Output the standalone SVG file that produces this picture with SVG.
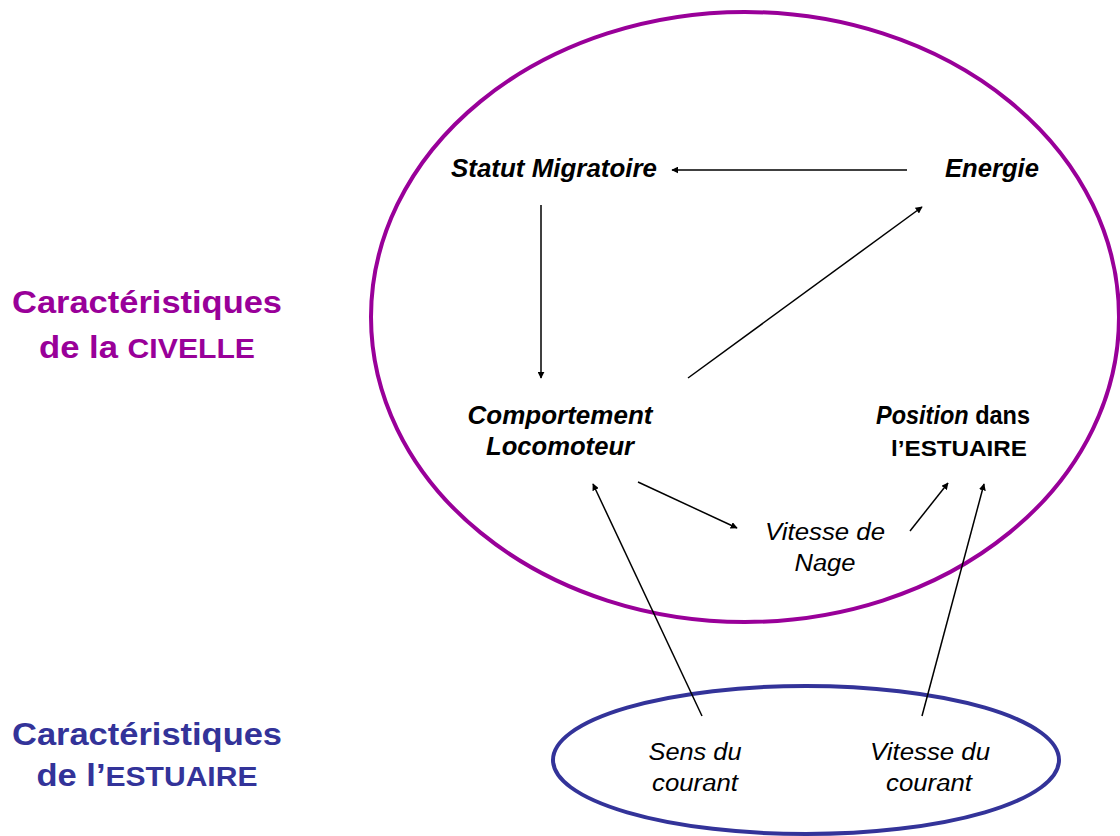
<svg xmlns="http://www.w3.org/2000/svg" width="1120" height="836" viewBox="0 0 1120 836">
<defs>
<style>
.t{font-family:"Liberation Sans",Arial,sans-serif;fill:#000;text-anchor:middle}
.bi{font-weight:bold;font-style:italic;font-size:25px}
.b{font-weight:bold;font-style:normal}
.i{font-style:italic;font-size:23.5px}
.lab{font-family:"Liberation Sans",Arial,sans-serif;font-weight:bold;font-size:31px;text-anchor:middle}
.c{stroke:#000;stroke-width:1.5;fill:none;marker-end:url(#ah)}
</style>
<marker id="ah" viewBox="0 0 10 10" refX="9" refY="5" markerWidth="7" markerHeight="7" markerUnits="userSpaceOnUse" orient="auto"><path d="M0,0 L10,5 L0,10 z" fill="#000"/></marker>
</defs>
<rect width="1120" height="836" fill="#fff"/>
<g id="civelle-ellipse"><ellipse cx="745" cy="317" rx="374" ry="305" fill="none" stroke="#990099" stroke-width="4"/></g>
<g id="estuaire-ellipse"><ellipse cx="806" cy="760" rx="253" ry="74" fill="none" stroke="#333399" stroke-width="4"/></g>
<g id="label-civelle">
<text class="lab" x="147" y="313" fill="#990099" textLength="270" lengthAdjust="spacingAndGlyphs">Caractéristiques</text>
<text class="lab" x="147" y="358" fill="#990099" textLength="216" lengthAdjust="spacingAndGlyphs">de la <tspan font-size="27px">CIVELLE</tspan></text>
</g>
<g id="label-estuaire">
<text class="lab" x="147" y="745" fill="#333399" textLength="270" lengthAdjust="spacingAndGlyphs">Caractéristiques</text>
<text class="lab" x="147" y="786" fill="#333399" textLength="221" lengthAdjust="spacingAndGlyphs">de l’<tspan font-size="27px">ESTUAIRE</tspan></text>
</g>
<g id="statut"><text class="t bi" x="554" y="177" textLength="206" lengthAdjust="spacingAndGlyphs">Statut Migratoire</text></g>
<g id="energie"><text class="t bi" x="992" y="177" textLength="94" lengthAdjust="spacingAndGlyphs">Energie</text></g>
<g id="comportement"><text class="t bi" x="560" y="424" textLength="185" lengthAdjust="spacingAndGlyphs">Comportement</text><text class="t bi" x="560" y="455" textLength="148" lengthAdjust="spacingAndGlyphs">Locomoteur</text></g>
<g id="position"><text class="t bi" x="953" y="424" textLength="154" lengthAdjust="spacingAndGlyphs">Position<tspan class="b"> dans</tspan></text><text class="t b" x="959" y="456" font-size="22px" textLength="136" lengthAdjust="spacingAndGlyphs">l’ESTUAIRE</text></g>
<g id="vitesse-nage"><text class="t i" x="825" y="540" textLength="120" lengthAdjust="spacingAndGlyphs">Vitesse de</text><text class="t i" x="825" y="571" textLength="61" lengthAdjust="spacingAndGlyphs">Nage</text></g>
<g id="sens"><text class="t i" x="695" y="760" textLength="93" lengthAdjust="spacingAndGlyphs">Sens du</text><text class="t i" x="695" y="791" textLength="86" lengthAdjust="spacingAndGlyphs">courant</text></g>
<g id="vitesse-courant"><text class="t i" x="930" y="760" textLength="120" lengthAdjust="spacingAndGlyphs">Vitesse du</text><text class="t i" x="929" y="791" textLength="86" lengthAdjust="spacingAndGlyphs">courant</text></g>
<g id="connectors">
<line class="c" x1="907" y1="170" x2="672" y2="170"/>
<line class="c" x1="541" y1="205" x2="541" y2="378"/>
<line class="c" x1="688" y1="378" x2="922" y2="207"/>
<line class="c" x1="638" y1="482" x2="737" y2="528"/>
<line class="c" x1="910" y1="531" x2="948" y2="483"/>
<line class="c" x1="702" y1="716" x2="593" y2="484"/>
<line class="c" x1="922" y1="716" x2="984" y2="484"/>
</g>
</svg>
